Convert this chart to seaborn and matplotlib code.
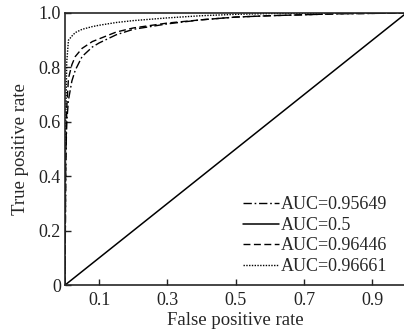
import numpy as np
import pandas as pd
import matplotlib
matplotlib.use("Agg")
import matplotlib.pyplot as plt
import seaborn as sns

# ROC points
fpr = [0, 0.002, 0.005, 0.01, 0.02, 0.03, 0.05, 0.08, 0.1, 0.15, 0.2, 0.3,
       0.4, 0.5, 0.6, 0.8, 1.0]
tpr_a = [0, 0.45, 0.60, 0.68, 0.75, 0.79, 0.84, 0.875, 0.89, 0.92, 0.94,
         0.96, 0.975, 0.985, 0.99, 0.997, 1.0]
tpr_c = [0, 0.45, 0.65, 0.76, 0.81, 0.84, 0.87, 0.895, 0.905, 0.93, 0.945,
         0.963, 0.975, 0.985, 0.99, 0.997, 1.0]
tpr_d = [0, 0.60, 0.82, 0.90, 0.915, 0.928, 0.94, 0.95, 0.955, 0.965, 0.972,
         0.982, 0.99, 0.995, 0.998, 1.0, 1.0]
diag = [0, 1]
labels = ["AUC=0.95649", "AUC=0.5", "AUC=0.96446", "AUC=0.96661"]

xticks = [0.1, 0.3, 0.5, 0.7, 0.9]
yticks = [0, 0.2, 0.4, 0.6, 0.8, 1.0]
yticklabels = ["0", "0.2", "0.4", "0.6", "0.8", "1.0"]

sns.set_style("ticks")
plt.rcParams["font.family"] = ["Liberation Serif", "DejaVu Serif"]

fig = plt.figure(figsize=(4.04, 3.33), dpi=100)
ax = fig.add_axes([0.161, 0.144, 0.845, 0.817])

sns.lineplot(x=fpr, y=tpr_a, ax=ax, color="k", lw=1.0, label=labels[0],
             linestyle=(0, (6, 2, 1.2, 2)), estimator=None, sort=False)
sns.lineplot(x=diag, y=diag, ax=ax, color="k", lw=1.1, label=labels[1],
             estimator=None, sort=False)
sns.lineplot(x=fpr, y=tpr_c, ax=ax, color="k", lw=1.0, label=labels[2],
             linestyle=(0, (5, 2.5)), estimator=None, sort=False)
sns.lineplot(x=fpr, y=tpr_d, ax=ax, color="k", lw=1.0, label=labels[3],
             linestyle=(0, (1, 1)), estimator=None, sort=False)

ax.set_xlim(0, 1)
ax.set_ylim(0, 1)
ax.set_xticks(xticks)
ax.set_xticklabels([str(t) for t in xticks])
ax.set_yticks(yticks)
ax.set_yticklabels(yticklabels)
ax.tick_params(direction="in", length=4, width=1, labelsize=13,
               colors="#222222")
ax.tick_params(axis="x", pad=5)
ax.tick_params(axis="y", pad=3)
ax.set_xlabel("False positive rate", fontsize=13.5, labelpad=2)
ax.set_ylabel("True positive rate", fontsize=13.5, labelpad=7)

for side in ["left", "bottom", "top"]:
    ax.spines[side].set_visible(True)
    ax.spines[side].set_linewidth(1.2)
ax.spines["right"].set_visible(False)

ax.legend(loc="lower right", bbox_to_anchor=(0.965, 0.01), frameon=False,
          fontsize=13, handlelength=2.0, handletextpad=0.1, labelspacing=0.2,
          borderaxespad=0)

fig.savefig("out.png", dpi=100)
